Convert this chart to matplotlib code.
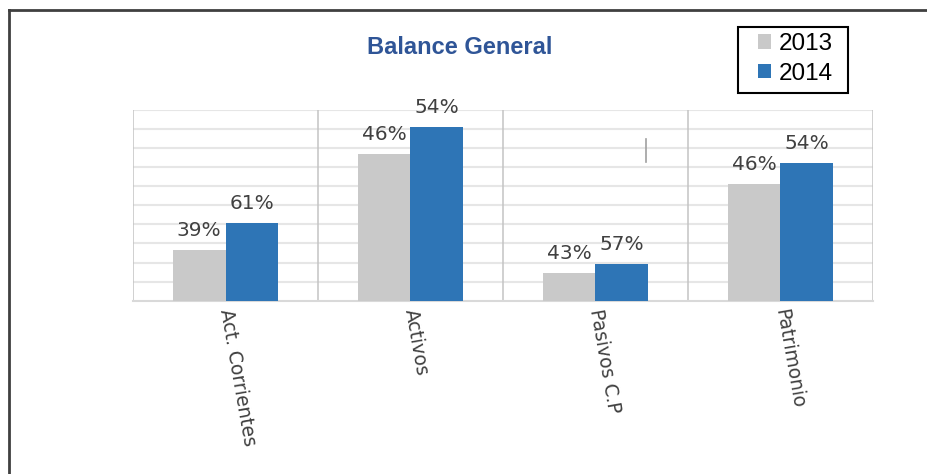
import matplotlib.pyplot as plt
from matplotlib.lines import Line2D
from matplotlib.patches import Rectangle
import numpy as np

# ---- data (bar heights, labels are the printed percentages) ----
categories = ["Act. Corrientes", "Activos", "Pasivos C.P", "Patrimonio"]
values_2013 = [2.67, 7.7, 1.47, 6.13]
values_2014 = [4.1, 9.1, 1.95, 7.23]
pct_2013 = ["39%", "46%", "43%", "46%"]
pct_2014 = ["61%", "54%", "57%", "54%"]

gray = "#C9C9C9"
blue = "#2E75B6"
txt = "#404040"

fig = plt.figure(figsize=(9.27, 4.74), dpi=100)
ax = fig.add_axes([0.1435, 0.3656, 0.7982, 0.4024])

x = np.arange(len(categories))
w = 0.284
b1 = ax.bar(x - w / 2, values_2013, w, color=gray, label="2013", zorder=3)
b2 = ax.bar(x + w / 2, values_2014, w, color=blue, label="2014", zorder=3)

for bars, labels in [(b1, pct_2013), (b2, pct_2014)]:
    for bar, lab in zip(bars, labels):
        ax.annotate(lab, (bar.get_x() + bar.get_width() / 2, bar.get_height()),
                    xytext=(0, 7), textcoords="offset points", ha="center", va="bottom",
                    fontsize=14.5, color=txt, family="DejaVu Sans")

ax.set_xlim(-0.5, 3.5)
ax.set_ylim(0, 10)

# grid: horizontal lines each unit, vertical separators between categories
for yv in range(1, 11):
    ax.axhline(yv, color="#E6E6E6", lw=1.5, zorder=1)
for xv in np.arange(-0.5, 4, 1):
    ax.axvline(xv, color="#C4C4C4", lw=1.1, zorder=2)

ax.set_yticks([])
ax.set_xticks(x)
ax.set_xticklabels(categories, rotation=-80, rotation_mode="anchor", ha="left", va="center",
                   fontsize=13.5, color=txt)
ax.tick_params(axis="x", length=0, pad=6)
for s in ["top", "right", "left"]:
    ax.spines[s].set_visible(False)
ax.spines["bottom"].set_color("#D9D9D9")
ax.spines["bottom"].set_linewidth(1.5)

fig.text(0.496, 0.9, "Balance General", ha="center", va="center", fontsize=17,
         fontweight="bold", color="#2F5597", family="Liberation Sans")

# legend entries without frame, box drawn separately
leg = fig.legend(handles=[b1, b2], loc="center left", bbox_to_anchor=(758 / 927, 1 - 59 / 474),
                 frameon=False, prop={"family": "Liberation Sans", "size": 17.5},
                 handlelength=0.55, handleheight=0.55, handletextpad=0.3, borderpad=0,
                 labelspacing=0.3, borderaxespad=0)
fig.add_artist(Rectangle((738 / 927, 1 - 93 / 474), 110 / 927, 66 / 474, transform=fig.transFigure,
                         fill=False, edgecolor="black", lw=1.5))

# outer frame (only top and left edges visible) and stray mark
fig.add_artist(Line2D([8.5 / 927, 8.5 / 927], [0, 1 - 9.5 / 474], color="#404040", lw=2))
fig.add_artist(Line2D([8.5 / 927, 1], [1 - 9.5 / 474, 1 - 9.5 / 474], color="#404040", lw=2))
fig.add_artist(Line2D([646 / 927, 646 / 927], [1 - 139 / 474, 1 - 162 / 474], color="#A0A0A0", lw=1.2))

fig.savefig("out.png", dpi=100)
